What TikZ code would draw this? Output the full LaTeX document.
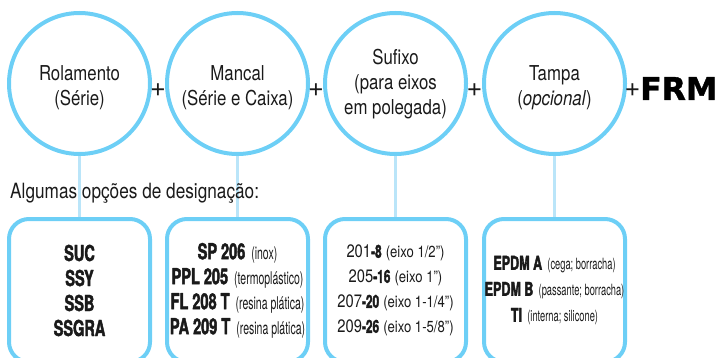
\documentclass[tikz,border=0pt]{standalone}
\usepackage{fontspec}
\setmainfont{TeX Gyre Heros}
\newfontfamily\condfont{TeX Gyre Heros}[FakeStretch=0.82]
\newfontfamily\boldcond{TeX Gyre Heros}[FakeStretch=0.66,FakeBold=2]
\newfontfamily\obsfont{TeX Gyre Heros}[FakeStretch=0.6]
\newfontfamily\blackfont{DejaVu Sans}[FakeBold=1.2]
\definecolor{azul}{HTML}{6DCFF6}
\definecolor{azulclaro}{HTML}{BAE5F9}
\definecolor{texto}{HTML}{1A1A1A}
\newcommand{\cod}[1]{{\boldcond\bfseries #1}}
\newcommand{\obs}[2][17.5]{{\obsfont\fontsize{#1}{#1}\selectfont #2}}
\newcommand{\nota}[1]{{\condfont\fontsize{16}{16}\selectfont #1}}

\begin{document}
\begin{tikzpicture}[x=1pt,y=-1pt,line join=round,
	circulo/.style={circle,draw=azul,line width=4pt,minimum size=141pt,inner sep=0pt},
	caixa/.style={rectangle,draw=azul,line width=4pt,rounded corners=20pt,minimum width=141pt,minimum height=143pt,inner sep=0pt,align=center,text=texto},
	rotulo/.style={align=center,text=texto,inner sep=0pt,font=\condfont\fontsize{20.5}{25}\selectfont},
	ligacao/.style={draw=azulclaro,line width=3pt},
	mais/.style={text=texto,inner sep=0pt,font=\fontsize{27}{27}\selectfont}]
	\useasboundingbox (0,0) rectangle (719,358);
	\clip (0,0) rectangle (719,358);
	\def\yc{83.5}
	\def\yb{290.5}
	% Círculos
	\node[circulo] (rol) at (79.5,\yc) {};
	\node[circulo] (man) at (237.5,\yc) {};
	\node[circulo] (suf) at (395.5,\yc) {};
	\node[circulo] (tam) at (554.5,\yc) {};
	\node[rotulo] (trol) at (79.5,88) {Rolamento\\(Série)};
	\node[rotulo] (tman) at (237.5,88) {Mancal\\(Série e Caixa)};
	\node[rotulo] (tsuf) at (395.5,84.5) {Sufixo\\(para eixos\\em polegada)};
	\node[rotulo] (ttam) at (554.5,88) {Tampa\\(\textit{opcional})};
	% Sinais de mais
	\node[mais] (m1) at (158,90) {+};
	\node[mais] (m2) at (316,90) {+};
	\node[mais] (m3) at (474.5,90) {+};
	\node[mais] (m4) at (632.5,90) {+};
	\node[anchor=base west,inner sep=0pt,text=black,font=\blackfont\bfseries\fontsize{31.5}{31.5}\selectfont] (frm) at (640,100) {FRM};
	% Caixas
	\node[caixa,font=\boldcond\bfseries\fontsize{22}{25}\selectfont] (crol) at (79.5,\yb) {SUC\\SSY\\SSB\\SSGRA};
	\node[caixa,font=\fontsize{22}{25}\selectfont] (cman) at (237.5,\yb) {\cod{SP 206}\hspace{6pt}\obs{(inox)}\\\cod{PPL 205} \obs{(termoplástico)}\\\cod{FL 208 T} \obs{(resina plática)}\\\cod{PA 209 T} \obs{(resina plática)}};
	\node[caixa,font=\condfont\fontsize{18}{25}\selectfont] (csuf) at (395.5,\yb) {201\cod{-8} \nota{(eixo 1/2”)}\\205\cod{-16} \nota{(eixo 1”)}\\207\cod{-20} \nota{(eixo 1-1/4”)}\\209\cod{-26} \nota{(eixo 1-5/8”)}};
	\node[caixa,font=\fontsize{19}{26}\selectfont] (ctam) at (554.5,\yb) {\cod{EPDM A} \obs[15.5]{(cega; borracha)}\\\cod{EPDM B} \obs[15.5]{(passante; borracha)}\\\cod{TI} \obs[15.5]{(interna; silicone)}};
	% Ligações
	\draw[ligacao] (rol) -- (crol);
	\draw[ligacao] (man) -- (cman);
	\draw[ligacao] (suf) -- (csuf);
	\draw[ligacao] (tam) -- (ctam);
	\node[anchor=base west,inner sep=0pt,text=texto,font=\condfont\fontsize{21}{25}\selectfont] (opcoes) at (10,198) {Algumas opções de designação:};
\end{tikzpicture}
\end{document}
